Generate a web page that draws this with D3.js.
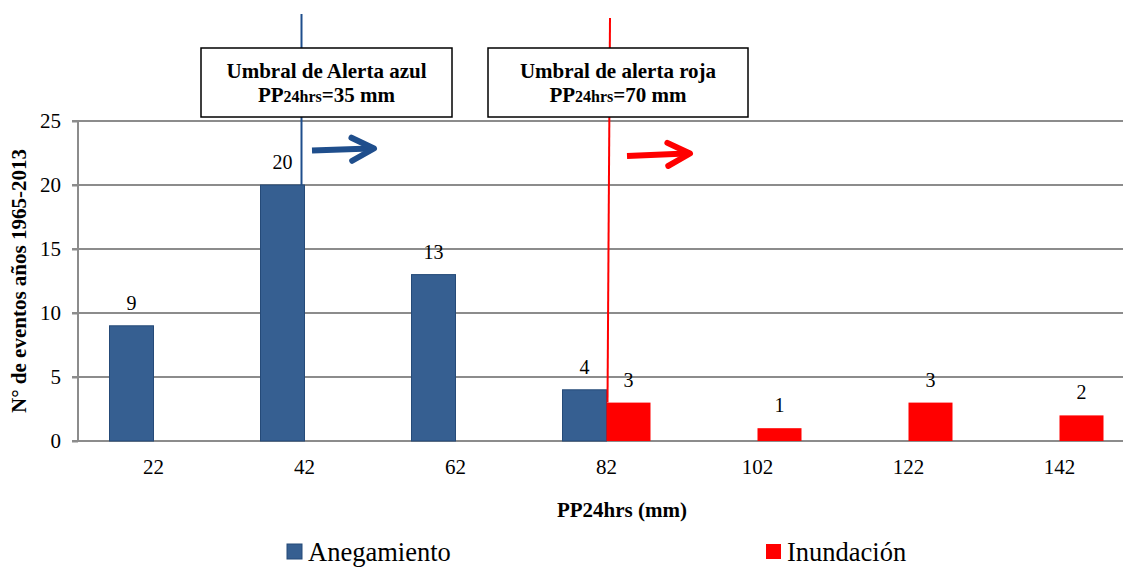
<!DOCTYPE html>
<html>
<head>
<meta charset="utf-8">
<script src="https://cdn.jsdelivr.net/npm/d3@7"></script>
<style>
  body { margin: 0; background: #fff; }
  svg text { font-family: 'Liberation Serif', 'Times New Roman', 'DejaVu Serif', serif; fill: #000; }
  .grid line { stroke: #8c8c8c; stroke-width: 2; }
  .axis path, .axis line { stroke: #8c8c8c; stroke-width: 2; }
  .axis text { font-size: 21px; }
</style>
</head>
<body>
<svg id="chart"></svg>
<script>
// data
const categories = ['22', '42', '62', '82', '102', '122', '142'];
const anegamiento = [9, 20, 13, 4, null, null, null];
const inundacion = [null, null, null, 3, 1, 3, 2];
const yTicks = [0, 5, 10, 15, 20, 25];
const seriesNames = ['Anegamiento', 'Inundación'];
const seriesColors = ['#365f91', '#ff0000'];

const config = {
  width: 1123, height: 567,
  margin: {top: 121, left: 78, bottom: 126}
};
const plotW = 7 * 151;
const plotH = config.height - config.margin.top - config.margin.bottom;

const svg = d3.select('#chart')
    .attr('width', config.width)
    .attr('height', config.height);

const chart = svg.append('g')
    .attr('transform', `translate(${config.margin.left},${config.margin.top})`);

const xScale = d3.scaleBand().domain(categories).range([0, plotW]);
const yScale = d3.scaleLinear().domain([0, 25]).range([plotH, 0]);
const barW = 44;
const cx = c => xScale(c) + xScale.bandwidth() / 2;

// gridlines
chart.append('g').attr('class', 'grid')
  .selectAll('line').data(yTicks).join('line')
    .attr('x1', -6).attr('x2', plotW)
    .attr('y1', d => yScale(d)).attr('y2', d => yScale(d));

// y axis
const yAxisG = chart.append('g').attr('class', 'axis')
    .call(d3.axisLeft(yScale).tickValues(yTicks).tickSize(6).tickPadding(11));
yAxisG.select('.domain').remove();
yAxisG.attr('font-family', null).attr('font-size', null);
chart.append('line')
    .attr('x1', 0).attr('x2', 0).attr('y1', 0).attr('y2', plotH)
    .style('stroke', '#8c8c8c').style('stroke-width', 2);

// x axis
const xAxisG = chart.append('g').attr('class', 'axis')
    .attr('transform', `translate(0,${plotH})`)
    .call(d3.axisBottom(xScale).tickSize(0).tickPadding(18));
xAxisG.select('.domain').remove();
xAxisG.attr('font-family', null).attr('font-size', null);

// bars
const blueData = categories.map((c, i) => ({c, v: anegamiento[i]})).filter(d => d.v != null);
const redData = categories.map((c, i) => ({c, v: inundacion[i]})).filter(d => d.v != null);

chart.selectAll('.bar-a').data(blueData).join('rect')
    .attr('class', 'bar-a')
    .attr('x', d => cx(d.c) - barW)
    .attr('y', d => yScale(d.v))
    .attr('width', barW)
    .attr('height', d => plotH - yScale(d.v))
    .attr('fill', seriesColors[0])
    .attr('stroke', '#254a78').attr('stroke-width', 1);

chart.selectAll('.bar-i').data(redData).join('rect')
    .attr('class', 'bar-i')
    .attr('x', d => cx(d.c))
    .attr('y', d => yScale(d.v))
    .attr('width', barW)
    .attr('height', d => plotH - yScale(d.v))
    .attr('fill', seriesColors[1]);

// value labels
chart.selectAll('.lbl-a').data(blueData).join('text')
    .attr('x', d => cx(d.c) - barW / 2)
    .attr('y', d => yScale(d.v) - 16)
    .attr('text-anchor', 'middle')
    .style('font-size', '20px')
    .text(d => d.v);
chart.selectAll('.lbl-i').data(redData).join('text')
    .attr('x', d => cx(d.c) + barW / 2)
    .attr('y', d => yScale(d.v) - 16)
    .attr('text-anchor', 'middle')
    .style('font-size', '20px')
    .text(d => d.v);

// threshold lines (svg coordinates)
const ml = config.margin.left, mt = config.margin.top;
const blueX = ml + cx('42') - 3;
const redX = ml + cx('82') + 4;
svg.append('line')
    .attr('x1', blueX).attr('x2', blueX)
    .attr('y1', 14).attr('y2', mt + yScale(20))
    .style('stroke', '#1f4e8c').style('stroke-width', 2);
svg.append('line')
    .attr('x1', redX - 0.5).attr('x2', redX - 3)
    .attr('y1', 18).attr('y2', mt + yScale(3))
    .style('stroke', '#ff0000').style('stroke-width', 2);

// annotation boxes
function box(x0, x1, line1, line2val) {
  svg.append('rect')
      .attr('x', x0).attr('y', 48).attr('width', x1 - x0).attr('height', 69)
      .attr('fill', '#fff').attr('stroke', '#000').attr('stroke-width', 1.5);
  const mid = (x0 + x1) / 2;
  svg.append('text').attr('x', mid).attr('y', 78)
      .attr('text-anchor', 'middle')
      .style('font-weight', 'bold').style('font-size', '21px')
      .text(line1);
  const t = svg.append('text').attr('x', mid).attr('y', 102)
      .attr('text-anchor', 'middle')
      .style('font-weight', 'bold').style('font-size', '21px');
  t.append('tspan').text('PP');
  t.append('tspan').style('font-size', '16px').text('24hrs');
  t.append('tspan').text(`=${line2val} mm`);
}
box(201, 452, 'Umbral de Alerta azul', 35);
box(488, 748, 'Umbral de alerta roja', 70);

// arrows
function arrow(x0, y0, x1, y1, color) {
  svg.append('line')
      .attr('x1', x0).attr('y1', y0).attr('x2', x1 - 4).attr('y2', y1)
      .style('stroke', color).style('stroke-width', 6);
  const ang = Math.atan2(y1 - y0, x1 - x0);
  const L = 25, a = 0.48;
  const p = [
    [x1 - L * Math.cos(ang - a), y1 - L * Math.sin(ang - a)],
    [x1, y1],
    [x1 - L * Math.cos(ang + a), y1 - L * Math.sin(ang + a)]
  ];
  svg.append('path')
      .attr('d', d3.line()(p))
      .attr('fill', 'none').attr('stroke', color)
      .attr('stroke-width', 6).attr('stroke-linecap', 'round').attr('stroke-linejoin', 'round');
}
arrow(312, 150.5, 374, 148.5, '#1f4e8c');
arrow(627, 156, 690, 153.5, '#ff0000');

// axis titles
svg.append('text')
    .attr('x', 622).attr('y', 517)
    .attr('text-anchor', 'middle')
    .style('font-weight', 'bold').style('font-size', '21px')
    .text('PP24hrs (mm)');
svg.append('text')
    .attr('transform', `translate(26,${mt + plotH / 2}) rotate(-90)`)
    .attr('text-anchor', 'middle')
    .style('font-weight', 'bold').style('font-size', '21px')
    .text('N° de eventos años 1965-2013');

// legend
const legendX = [287, 766];
const legend = svg.selectAll('.legend').data(seriesNames).join('g')
    .attr('transform', (d, i) => `translate(${legendX[i]},544)`);
legend.append('rect')
    .attr('width', 15).attr('height', 15)
    .attr('fill', (d, i) => seriesColors[i])
    .attr('stroke', (d, i) => i === 0 ? '#254a78' : 'none');
legend.append('text')
    .attr('x', 21).attr('y', 17)
    .style('font-size', '26.5px')
    .text(d => d);
</script>
</body>
</html>
